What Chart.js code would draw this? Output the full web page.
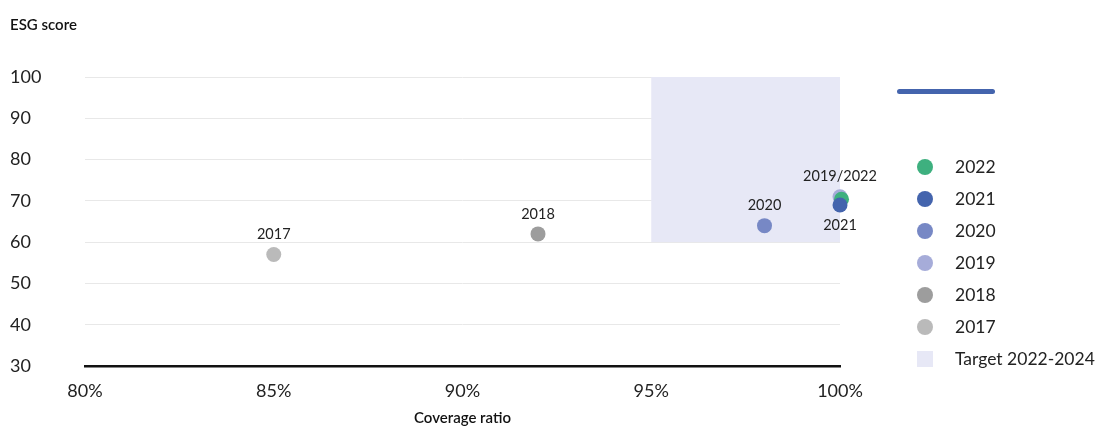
<!DOCTYPE html>
<html>
<head>
<meta charset="utf-8">
<script src="https://cdn.jsdelivr.net/npm/chart.js@4"></script>
<style>
  body { margin: 0; background: #fff; font-family: Lato, "Noto Sans", sans-serif; }
  #wrap { position: relative; width: 1097px; height: 428px; }
  #legend { position: absolute; left: 897px; top: 0; width: 200px; height: 428px; color: #222; font-size: 17.5px; }
  .line { position: absolute; left: 0; top: 89px; width: 98px; height: 5px; border-radius: 3px; }
  .item { position: absolute; left: 20px; height: 20px; line-height: 20px; }
  .item i { position: absolute; left: 0; top: 2px; width: 16px; height: 16px; }
  .item span { position: absolute; left: 38px; white-space: nowrap; }
</style>
</head>
<body>
<div id="wrap">
  <canvas id="chart" width="1097" height="428"></canvas>
  <div id="legend"></div>
</div>
<script>
// coverage ratio (%) and ESG score per year
const years = ["2022", "2021", "2020", "2019", "2018", "2017"];
const coverage = [100.04, 100, 98, 100, 92, 85];
const scores = [70.4, 69, 64, 71, 62, 57];
const colors = ["#3eb07f", "#4464ad", "#7788c5", "#a6acd9", "#9d9d9d", "#bababa"];
const tags = ["", "2021", "2020", "2019/2022", "2018", "2017"];

// target zone 2022-2024
const targetLabel = "Target 2022-2024";
const targetX = [95, 100];
const targetY = [60, 100];
const targetColor = "#e7e8f6";

const yTicks = [30, 40, 50, 60, 70, 80, 90, 100];
const xTicks = [80, 85, 90, 95, 100];

const FONT = "Lato, 'Noto Sans', sans-serif";

// 2021 sits on top, then 2022, with 2019 underneath
const drawOrder = { "2021": 0, "2022": 1, "2019": 2 };
const tagBelow = ["2021"];

const datasets = years.map((y, i) => ({
  label: y,
  data: [{ x: coverage[i], y: scores[i] }],
  backgroundColor: colors[i],
  borderWidth: 0,
  pointRadius: 7.5,
  pointHoverRadius: 7.5,
  clip: false,
  order: drawOrder[y] !== undefined ? drawOrder[y] : 3
}));

const targetBox = {
  id: "targetBox",
  beforeDatasetsDraw(chart) {
    const { ctx, scales: { x, y } } = chart;
    const x0 = x.getPixelForValue(targetX[0]);
    const x1 = x.getPixelForValue(targetX[1]);
    const y0 = y.getPixelForValue(targetY[1]);
    const y1 = y.getPixelForValue(targetY[0]);
    ctx.save();
    ctx.fillStyle = targetColor;
    ctx.fillRect(x0, y0, x1 - x0, y1 - y0);
    ctx.restore();
  }
};

const pointTags = {
  id: "pointTags",
  afterDatasetsDraw(chart) {
    const ctx = chart.ctx;
    ctx.save();
    ctx.font = "14.5px " + FONT;
    ctx.fillStyle = "#222";
    ctx.textAlign = "center";
    ctx.textBaseline = "middle";
    years.forEach((yr, i) => {
      if (!tags[i]) return;
      const pt = chart.getDatasetMeta(i).data[0];
      const dy = tagBelow.includes(yr) ? 20 : -20;
      ctx.fillText(tags[i], pt.x, pt.y + dy);
    });
    ctx.restore();
  }
};

new Chart(document.getElementById("chart"), {
  type: "scatter",
  data: { datasets },
  plugins: [targetBox, pointTags],
  options: {
    responsive: false,
    animation: false,
    layout: { padding: { left: 10, right: 257, top: 0, bottom: 0 } },
    plugins: {
      legend: { display: false },
      tooltip: { enabled: false },
      title: {
        display: true,
        text: "ESG score",
        align: "start",
        color: "#111",
        font: { family: FONT, size: 15, weight: "600", lineHeight: 1.2 },
        padding: { top: 16, bottom: 43 }
      }
    },
    scales: {
      x: {
        type: "linear",
        min: xTicks[0],
        max: xTicks[xTicks.length - 1],
        afterBuildTicks(axis) { axis.ticks = xTicks.map(v => ({ value: v })); },
        afterFit(axis) { axis.height = 62; },
        grid: { display: false, drawTicks: false },
        border: { display: true, color: "#111", width: 2.5 },
        ticks: {
          padding: 14,
          color: "#222",
          font: { family: FONT, size: 18, lineHeight: 1.2 },
          callback: v => v + "%"
        },
        title: {
          display: true,
          text: "Coverage ratio",
          color: "#111",
          font: { family: FONT, size: 15, weight: "600", lineHeight: 1.2 },
          padding: { top: 8, bottom: 1 }
        }
      },
      y: {
        min: yTicks[0],
        max: yTicks[yTicks.length - 1],
        afterBuildTicks(axis) { axis.ticks = yTicks.map(v => ({ value: v })); },
        afterFit(axis) { axis.width = 75; },
        grid: {
          drawTicks: false,
          color: ctx => ctx.tick && ctx.tick.value === yTicks[0] ? "rgba(0,0,0,0)" : "#e8e8e8",
          lineWidth: 1
        },
        border: { display: false },
        ticks: {
          crossAlign: "far",
          color: "#222",
          font: { family: FONT, size: 18, lineHeight: 1.2 }
        }
      }
    }
  }
});

// legend on the right: series line, year markers, target zone
const legend = document.getElementById("legend");
const line = document.createElement("div");
line.className = "line";
line.style.background = colors[1];
legend.appendChild(line);
years.forEach((y, i) => {
  const item = document.createElement("div");
  item.className = "item";
  item.style.top = (157 + i * 32) + "px";
  item.innerHTML = '<i style="border-radius:50%;background:' + colors[i] + '"></i><span>' + y + "</span>";
  legend.appendChild(item);
});
const tItem = document.createElement("div");
tItem.className = "item";
tItem.style.top = (157 + years.length * 32) + "px";
tItem.innerHTML = '<i style="background:' + targetColor + '"></i><span>' + targetLabel + "</span>";
legend.appendChild(tItem);
</script>
</body>
</html>
